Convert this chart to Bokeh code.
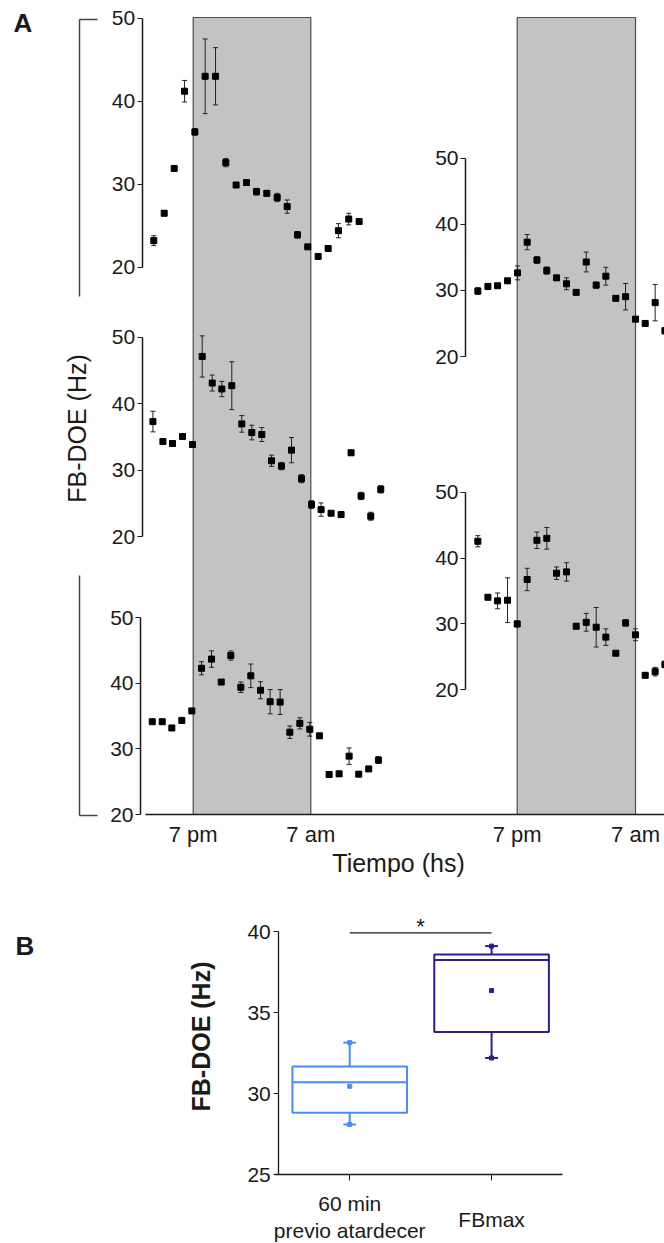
import math
import numpy as np
from bokeh.plotting import figure
from bokeh.models import (Range1d, LinearAxis, FixedTicker, Label, ColumnDataSource,
                          Whisker, TeeHead)
from bokeh.embed import file_html
from bokeh.resources import INLINE

# ------------------------------------------------------------------ data (panel A)
# hours relative to 7 pm (0) ; night = 7 pm .. 7 am
night_start, night_end = 0, 12
x_tick_hours = [0, 12]
x_tick_labels = ["7 pm", "7 am"]
y_ticks = [20, 30, 40, 50]

tl_h = [-4.02, -2.96, -1.94, -0.88, 0.17, 1.22, 2.28, 3.33, 4.38, 5.44, 6.46, 7.51,
        8.57, 9.59, 10.64, 11.69, 12.75, 13.77, 14.82, 15.87, 16.93]
tl_y = [23.2, 26.5, 31.9, 41.2, 36.3, 43.0, 43.0, 32.6, 29.9, 30.2, 29.1, 28.9,
        28.4, 27.3, 23.9, 22.45, 21.3, 22.25, 24.4, 25.8, 25.5]
tl_e = [0.6, 0.3, 0.3, 1.3, 0.4, 4.5, 3.45, 0.5, 0.3, 0.3, 0.4, 0.3,
        0.5, 0.8, 0.4, 0.2, 0.2, 0.2, 0.85, 0.7, 0.3]

ml_h = [-4.11, -3.09, -2.11, -1.09, -0.07, 0.92, 1.94, 2.92, 3.94, 4.96, 5.98, 7.0,
        7.99, 9.01, 10.03, 11.05, 12.07, 13.05, 14.07, 15.09, 16.11, 17.13, 18.12, 19.14]
ml_y = [37.3, 34.3, 34.0, 35.05, 33.85, 47.1, 43.1, 42.2, 42.7, 36.95, 35.65, 35.35,
        31.4, 30.6, 33.0, 28.7, 24.8, 24.05, 23.5, 23.3, 32.6, 26.1, 23.05, 27.1]
ml_e = [1.55, 0.3, 0.3, 0.3, 0.3, 3.1, 1.2, 1.15, 3.6, 1.25, 1.1, 1.05,
        0.85, 0.55, 1.9, 0.6, 0.6, 1.0, 0.2, 0.4, 0.4, 0.55, 0.6, 0.55]

bl_h = [-4.18, -3.16, -2.18, -1.16, -0.14, 0.85, 1.87, 2.86, 3.84, 4.86, 5.88, 6.87,
        7.85, 8.87, 9.86, 10.88, 11.9, 12.88, 13.87, 14.89, 15.91, 16.89, 17.91, 18.9]
bl_y = [34.15, 34.15, 33.2, 34.35, 35.8, 42.3, 43.7, 40.2, 44.25, 39.4, 41.15, 38.95,
        37.2, 37.15, 32.55, 33.9, 33.0, 32.0, 26.1, 26.2, 28.9, 26.15, 26.95, 28.3]
bl_e = [0.1, 0.1, 0.3, 0.2, 0.1, 1.0, 1.25, 0.3, 0.7, 0.8, 1.8, 1.3,
        1.85, 1.9, 0.95, 0.85, 1.05, 0.35, 0.4, 0.4, 1.25, 0.1, 0.2, 0.5]

tr_h = [-3.99, -2.97, -1.99, -0.98, 0.03, 1.01, 2.0, 3.0, 3.99, 5.0, 5.98, 7.0,
        8.01, 8.99, 10.0, 10.99, 12.0, 12.98, 13.99, 14.98]
tr_y = [29.9, 30.6, 30.7, 31.45, 32.65, 37.3, 34.6, 33.0, 31.9, 31.0, 29.7, 34.3,
        30.8, 32.15, 28.8, 29.05, 25.65, 25.0, 28.15, 23.9]
tr_e = [0.5, 0.45, 0.2, 0.3, 1.05, 1.15, 0.5, 0.55, 0.35, 0.9, 0.2, 1.5,
        0.45, 1.35, 0.35, 2.0, 0.35, 0.3, 2.75, 0.5]

br_h = [-3.99, -2.97, -1.99, -0.98, 0.0, 1.01, 2.0, 3.0, 3.99, 5.0, 5.98, 7.0,
        8.01, 8.99, 10.0, 10.99, 12.0, 12.98, 13.99, 14.98]
br_y = [42.55, 34.05, 33.5, 33.6, 30.0, 36.75, 42.7, 43.0, 37.7, 37.9, 29.65, 30.25,
        29.5, 28.0, 25.55, 30.15, 28.35, 22.2, 22.75, 23.85]
br_e = [0.85, 0.3, 1.2, 3.4, 0.45, 1.7, 1.25, 1.65, 0.95, 1.4, 0.35, 1.35,
        3.0, 1.25, 0.3, 0.5, 0.9, 0.35, 0.65, 0.5]

# ------------------------------------------------------------------ data (panel B)
b_cats = ["60 min\nprevio atardecer", "FBmax"]
b_min = [28.1, 32.2]
b_q1 = [28.82, 33.8]
b_med = [30.71, 38.25]
b_q3 = [31.68, 38.58]
b_max = [33.15, 39.1]
b_mean = [30.46, 36.36]
b_ticks = [25, 30, 35, 40]
b_sig_y = 39.92
b_sig_text = "*"

# ------------------------------------------------------------------ layout constants
W, H = 664, 1243
FONT = "Liberation Sans"
INK = "#1a1a1a"
TICK_FS = "21px"
TIME_FS = "22px"
CAT_FS = "21px"
LAB_FS = "25px"

L_PX0, L_PPH = 192.7, 9.8      # left group: px of 7 pm, px per hour
R_PX0, R_PPH = 516.7, 9.861    # right group
A_AXIS_PX = 814                # time axis line

def lin_range(px_a, val_a, px_b, val_b, size):
    """Range whose value val_a sits at pixel px_a and val_b at px_b over [0, size]."""
    k = (val_b - val_a) / (px_b - px_a)
    return Range1d(val_a - px_a * k, val_a + (size - px_a) * k)

def lh(px):
    return (px - L_PX0) / L_PPH

def rh(px):
    return (px - R_PX0) / R_PPH

# one canvas; default ranges are pixel coordinates (y from top)
p = figure(width=W, height=H, x_range=Range1d(0, W), y_range=Range1d(H, 0),
           x_axis_type=None, y_axis_type=None, toolbar_location=None,
           output_backend="svg", min_border_left=0, min_border_right=0,
           min_border_top=0, min_border_bottom=0, outline_line_color=None)
p.extra_x_ranges = {"L": lin_range(L_PX0, 0, L_PX0 + 12 * L_PPH, 12, W),
                    "R": lin_range(R_PX0, 0, R_PX0 + 12 * R_PPH, 12, W)}

# night shading
for xr in ("L", "R"):
    p.quad(left=[night_start], right=[night_end], top=[17], bottom=[A_AXIS_PX],
           x_range_name=xr, fill_color="#c3c3c3", line_color="#4d4d4d",
           line_width=1.2, level="underlay")

panels = [
    ("tl", "L", tl_h, tl_y, tl_e, 17.7, 266.7, lh(141.7)),
    ("ml", "L", ml_h, ml_y, ml_e, 336.7, 536.0, lh(141.7)),
    ("bl", "L", bl_h, bl_y, bl_e, 617.3, 814.0, lh(140.0)),
    ("tr", "R", tr_h, tr_y, tr_e, 157.7, 356.0, rh(465.0)),
    ("br", "R", br_h, br_y, br_e, 491.7, 689.3, rh(465.0)),
]

for name, xr, h, y, e, px50, px20, axloc in panels:
    k = 30 / (px20 - px50)     # value units per pixel
    p.extra_y_ranges[name] = Range1d(20 + (px20 - H) * k, 50 + px50 * k)
    ya = np.array(y)
    ea = np.array(e)
    src = ColumnDataSource(dict(x=h, y=y, lo=ya - ea, hi=ya + ea))
    wk = Whisker(source=src, base="x", upper="hi", lower="lo", dimension="height",
                 line_color="#222222", line_width=1,
                 upper_head=TeeHead(size=5, line_color="#222222", line_width=1),
                 lower_head=TeeHead(size=5, line_color="#222222", line_width=1),
                 x_range_name=xr, y_range_name=name)
    p.add_layout(wk)
    p.scatter("x", "y", source=src, marker="square", size=6, color="black",
              x_range_name=xr, y_range_name=name)
    ax = LinearAxis(x_range_name=xr, y_range_name=name, fixed_location=axloc,
                    bounds=(20, 50), ticker=FixedTicker(ticks=y_ticks),
                    axis_line_color=INK, axis_line_width=1.5,
                    major_tick_line_color=INK, major_tick_line_width=1.2,
                    major_tick_out=5, major_tick_in=0,
                    minor_tick_out=0, minor_tick_in=0,
                    major_label_standoff=2,
                    major_label_text_font=FONT, major_label_text_font_size=TICK_FS,
                    major_label_text_color=INK)
    p.add_layout(ax, "left")

# left brackets (pixel coordinates)
for (b0, b1, tick) in [(19, 296, 19), (575, 815, 815)]:
    bk = LinearAxis(fixed_location=78.5, bounds=(b0, b1),
                    ticker=FixedTicker(ticks=[tick]), major_label_overrides={tick: ""},
                    axis_line_color="#444444", axis_line_width=1.5,
                    major_tick_line_color="#444444", major_tick_line_width=1.5,
                    major_tick_in=18, major_tick_out=0, minor_tick_out=0, minor_tick_in=0,
                    major_label_text_font_size="1px")
    p.add_layout(bk, "left")

# time axes
for xr, color, bnds in [("L", INK, (lh(145), lh(W))), ("R", None, (rh(400), rh(W)))]:
    xa = LinearAxis(x_range_name=xr, fixed_location=A_AXIS_PX, bounds=bnds,
                    ticker=FixedTicker(ticks=x_tick_hours),
                    major_label_overrides=dict(zip(x_tick_hours, x_tick_labels)),
                    axis_line_color=color, axis_line_width=1.5,
                    major_tick_out=0, major_tick_in=0, minor_tick_out=0, minor_tick_in=0,
                    major_label_standoff=7,
                    major_label_text_font=FONT, major_label_text_font_size=TIME_FS,
                    major_label_text_color=INK)
    p.add_layout(xa, "below")

def label(x, y, text, size, bold=False, angle=0.0, align="center"):
    p.add_layout(Label(x=x, y=y, text=text, angle=angle, text_font=FONT,
                       text_font_size=size, text_font_style="bold" if bold else "normal",
                       text_color=INK, text_align=align, text_baseline="middle"))

label(13, 22, "A", "26px", bold=True, align="left")
label(76, 428, "FB-DOE (Hz)", LAB_FS, angle=math.pi / 2)
label(398, 862, "Tiempo (hs)", LAB_FS)

# ------------------------------------------------------------------ panel B
B_X0, B_X1 = 278.3, 562.0          # pixel span of the B plotting area
B_PX40, B_PX25 = 931.0, 1174.3     # pixel rows of 40 Hz and 25 Hz
p.extra_x_ranges["bx"] = lin_range(B_X0, 0, B_X1, len(b_cats), W)
kB = 15 / (B_PX25 - B_PX40)
p.extra_y_ranges["by"] = Range1d(25 + (B_PX25 - H) * kB, 40 + B_PX40 * kB)

bx = np.arange(len(b_cats)) + 0.5
colors = ["#4a8cfa", "#2f1b93"]
hw = 0.404
cw = 0.045
srcB = ColumnDataSource(dict(x=bx, l=bx - hw, r=bx + hw, cl=bx - cw, cr=bx + cw,
                             mn=b_min, q1=b_q1, med=b_med, q3=b_q3, mx=b_max,
                             mean=b_mean, c=colors))
kw = dict(source=srcB, x_range_name="bx", y_range_name="by")
p.quad(left="l", right="r", bottom="q1", top="q3", fill_color=None,
       line_color="c", line_width=2, **kw)
p.segment(x0="l", x1="r", y0="med", y1="med", line_color="c", line_width=2, **kw)
p.segment(x0="x", x1="x", y0="q3", y1="mx", line_color="c", line_width=2, **kw)
p.segment(x0="x", x1="x", y0="q1", y1="mn", line_color="c", line_width=2, **kw)
p.segment(x0="cl", x1="cr", y0="mx", y1="mx", line_color="c", line_width=2, **kw)
p.segment(x0="cl", x1="cr", y0="mn", y1="mn", line_color="c", line_width=2, **kw)
for f in ("mx", "mn", "mean"):
    p.scatter(x="x", y=f, marker="square", size=4, color="c", **kw)

p.segment(x0=[bx[0]], x1=[bx[1]], y0=[b_sig_y], y1=[b_sig_y], line_color=INK,
          line_width=1.3, x_range_name="bx", y_range_name="by")
p.add_layout(Label(x=float(bx.mean()), y=b_sig_y - 0.4, text=b_sig_text, text_font=FONT,
                   text_font_size="22px", text_color=INK, text_align="center",
                   text_baseline="bottom", x_range_name="bx", y_range_name="by"))

yb = LinearAxis(x_range_name="bx", y_range_name="by", fixed_location=0,
                bounds=(25, 40), ticker=FixedTicker(ticks=b_ticks),
                axis_line_color=INK, axis_line_width=1.3, major_tick_line_color=INK,
                major_tick_out=5, major_tick_in=0, minor_tick_out=0, minor_tick_in=0,
                major_label_standoff=3, major_label_text_font=FONT,
                major_label_text_font_size=TICK_FS, major_label_text_color=INK)
p.add_layout(yb, "left")

# category axes: first carries the line, ticks and first label; second label sits lower
xb1 = LinearAxis(x_range_name="bx", y_range_name="by", fixed_location=25,
                 bounds=(-0.03, len(b_cats)), ticker=FixedTicker(ticks=list(bx)),
                 major_label_overrides={float(bx[0]): b_cats[0], float(bx[1]): ""},
                 axis_line_color=INK, axis_line_width=1.3, major_tick_line_color=INK,
                 major_tick_out=6, major_tick_in=0, minor_tick_out=0, minor_tick_in=0,
                 major_label_standoff=11, major_label_text_font=FONT,
                 major_label_text_font_size=CAT_FS, major_label_text_color=INK)
p.add_layout(xb1, "below")
xb2 = LinearAxis(x_range_name="bx", y_range_name="by", fixed_location=25,
                 ticker=FixedTicker(ticks=[float(bx[1])]),
                 major_label_overrides={float(bx[1]): b_cats[1]},
                 axis_line_color=None, major_tick_line_color=None,
                 major_tick_out=0, major_tick_in=0, minor_tick_out=0, minor_tick_in=0,
                 major_label_standoff=33, major_label_text_font=FONT,
                 major_label_text_font_size=CAT_FS, major_label_text_color=INK)
p.add_layout(xb2, "below")

label(15, 945, "B", "26px", bold=True, align="left")
label(200, 1036, "FB-DOE (Hz)", LAB_FS, bold=True, angle=math.pi / 2)

open("out.html", "w").write(file_html(p, INLINE))
